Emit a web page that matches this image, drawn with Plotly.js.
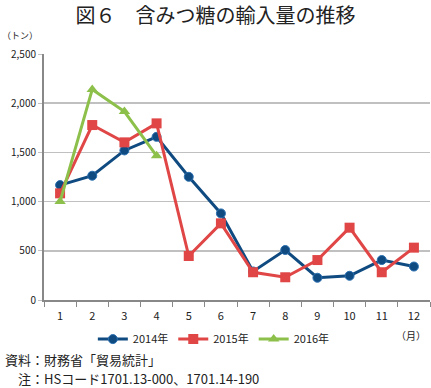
<!DOCTYPE html>
<html><head><meta charset="utf-8">
<script src="https://cdn.plot.ly/plotly-3.0.1.min.js"></script>
<style>html,body{margin:0;padding:0;background:#fff;}#c{width:431px;height:388px;}</style>
</head><body><div id="c"></div>
<script>
var months = ["1","2","3","4","5","6","7","8","9","10","11","12"];
var y2014 = [1168, 1263, 1520, 1658, 1252, 880, 290, 508, 226, 246, 406, 340];
var y2015 = [1084, 1778, 1602, 1795, 447, 779, 282, 231, 406, 735, 282, 532];
var y2016 = [1000, 2140, 1915, 1465];
var months2016 = months.slice(0, 4);
var yTicks = [0, 500, 1000, 1500, 2000, 2500];
var yTickText = ["0", "500", "1,000", "1,500", "2,000", "2,500"];

var font = "Noto Sans CJK JP, Noto Sans, sans-serif";
var traces = [
  {x: months, y: y2014, name: "2014年", type: "scatter", mode: "lines+markers",
   line: {color: "#0f4a80", width: 3}, marker: {symbol: "circle", size: 9, color: "#0f4a80", line:{color:"#2a6fb0", width:1}}},
  {x: months, y: y2015, name: "2015年", type: "scatter", mode: "lines+markers",
   line: {color: "#e04646", width: 3}, marker: {symbol: "square", size: 10, color: "#e04646"}},
  {x: months2016, y: y2016, name: "2016年", type: "scatter", mode: "lines+markers",
   line: {color: "#8cc04a", width: 3}, marker: {symbol: "triangle-up", size: 10, color: "#8cc04a"}}
];
var layout = {
  width: 431, height: 388,
  margin: {l: 44, r: 1, t: 54, b: 88},
  paper_bgcolor: "#fff", plot_bgcolor: "#fff",
  showlegend: true,
  legend: {orientation: "h", x: 0.44, xanchor: "center", y: -0.1, yanchor: "top",
           font: {family: font, size: 11, color: "#222"}, itemwidth: 30, tracegroupgap: 0},
  title: {text: "図６　含みつ糖の輸入量の推移", x: 0.5, xanchor: "center", y: 0.96, yanchor: "middle",
          font: {family: font, size: 20, color: "#222"}},
  xaxis: {type: "category", categoryorder: "array", categoryarray: months,
          tickson: "boundaries", ticks: "outside", ticklen: 5, tickcolor: "#888", tickwidth: 1,
          showline: true, linecolor: "#888", linewidth: 2, showgrid: false, zeroline: false,
          ticklabelstandoff: 5,
          tickfont: {family: font, size: 11, color: "#222"}, range: [-0.5, 11.5], fixedrange: true},
  yaxis: {range: [0, 2500], tickvals: yTicks, ticktext: yTickText,
          showline: true, linecolor: "#888", linewidth: 2, showgrid: true, gridcolor: "#c0c0c0", gridwidth: 1.5,
          ticks: "outside", ticklen: 4, tickcolor: "#c0c0c0", zeroline: false,
          tickfont: {family: font, size: 10, color: "#222"}, fixedrange: true},
  annotations: [
    {text: "（トン）", xref: "paper", yref: "paper", x: -0.115, y: 1.075, xanchor: "left", yanchor: "middle",
     showarrow: false, font: {family: font, size: 9, color: "#222"}},
    {text: "（月）", xref: "paper", yref: "paper", x: 0.995, y: -0.145, xanchor: "right", yanchor: "middle",
     showarrow: false, font: {family: font, size: 10, color: "#222"}},
    {text: "資料：財務省「貿易統計」", xref: "paper", yref: "paper", x: -0.103, y: -0.2419,
     xanchor: "left", yanchor: "middle", borderpad: 0,
     showarrow: false, font: {family: font, size: 13, color: "#222"}},
    {text: "　注：HSコード1701.13-000、1701.14-190", xref: "paper", yref: "paper", x: -0.103, y: -0.3191,
     xanchor: "left", yanchor: "middle", borderpad: 0,
     showarrow: false, font: {family: font, size: 13, color: "#222"}}
  ]
};
Plotly.newPlot("c", traces, layout, {displayModeBar: false, staticPlot: true});
</script></body></html>
